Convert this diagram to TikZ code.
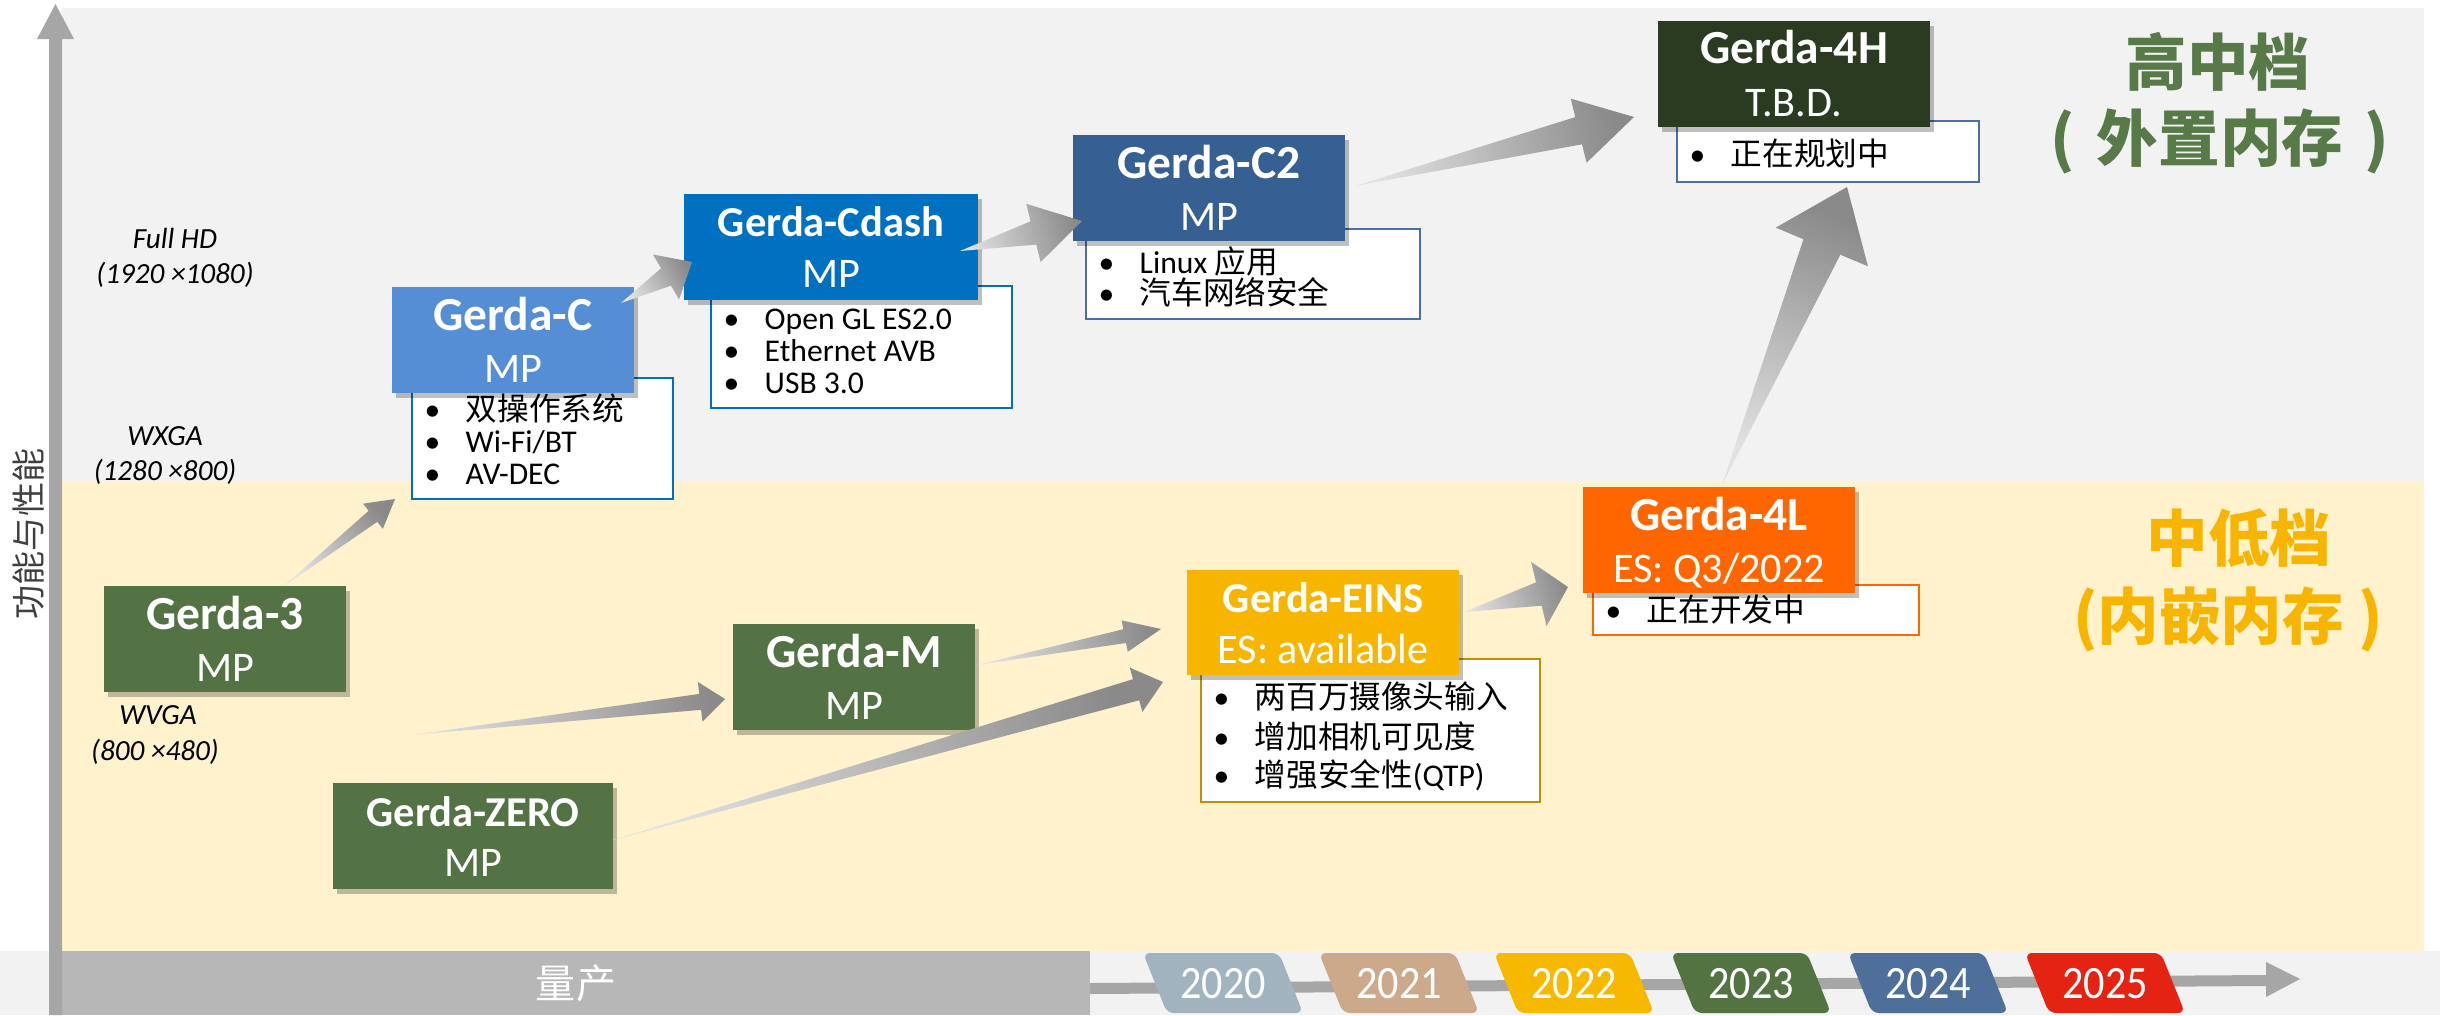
\documentclass[tikz,border=0pt]{standalone}
\usepackage{fontspec}
\setmainfont{Carlito}
\newfontfamily\cjk{Noto Sans CJK SC}
\usetikzlibrary{calc,fit,shadows}

\definecolor{bggray}{HTML}{F2F2F2}
\definecolor{bgyel}{HTML}{FFF2CC}
\definecolor{axisgray}{HTML}{A6A6A6}
\definecolor{barg}{HTML}{B7B7B7}
\definecolor{cgreen}{HTML}{537344}
\definecolor{cltblue}{HTML}{558ED5}
\definecolor{cblue}{HTML}{0070C0}
\definecolor{csteel}{HTML}{376092}
\definecolor{cdkgreen}{HTML}{2A3B22}
\definecolor{corange}{HTML}{FF6600}
\definecolor{camber}{HTML}{F7B500}
\definecolor{bdsteel}{HTML}{4A6FA5}
\definecolor{bdgold}{HTML}{BF9000}
\definecolor{hgreen}{HTML}{587A48}
\definecolor{ylabc}{HTML}{404040}
\definecolor{yra}{HTML}{A0B3BE}
\definecolor{yrb}{HTML}{CDA98C}
\definecolor{yrc}{HTML}{F7B800}
\definecolor{yrd}{HTML}{537343}
\definecolor{yre}{HTML}{4D6F99}
\definecolor{yrf}{HTML}{E42313}
\definecolor{arrlight}{HTML}{E2E2E2}
\definecolor{arrdark}{HTML}{8A8A8A}

\newcommand\bl[1]{\makebox[0.41cm][l]{•}#1}

\newcommand\garrow[5]{%
  \pgfmathanglebetweenpoints{\pgfpointanchor{#1}{center}}{\pgfpointanchor{#2}{center}}%
  \pgfmathsetmacro\gaang{\pgfmathresult-90}%
  \coordinate (gahb) at ($(#2)!#3!(#1)$);
  \shade[bottom color=arrlight, top color=arrdark, shading angle=\gaang]
    (#1) -- ($(gahb)!#5!90:(#2)$) -- ($(gahb)!#4!90:(#2)$) -- (#2)
    -- ($(gahb)!#4!-90:(#2)$) -- ($(gahb)!#5!-90:(#2)$) -- cycle;
}

\tikzset{
  tbox/.style={inner sep=0, outer sep=0, draw=none,
    drop shadow={shadow xshift=1.2pt, shadow yshift=-1.5pt, opacity=0.25, fill=black}},
  bbox/.style={inner sep=0, outer sep=0, fill=white, line width=0.7pt},
  ttl/.style={anchor=base, inner sep=0, text=white, font=\fontsize{13.5}{14}\selectfont\bfseries},
  ttls/.style={anchor=base, inner sep=0, text=white, font=\fontsize{12.1}{13}\selectfont\bfseries},
  sub/.style={anchor=base, inner sep=0, text=white, font=\fontsize{12}{13}\selectfont},
  item/.style={anchor=base west, inner sep=0, font=\fontsize{9}{10}\selectfont},
  res/.style={anchor=base, inner sep=0, font=\fontsize{8.3}{9}\selectfont\itshape},
  yrtxt/.style={anchor=base, inner sep=0, text=white, font=\fontsize{12}{13}\selectfont},
  big/.style={inner sep=0, font={\cjk\bfseries\fontsize{17.5}{18}\selectfont}},
}

\begin{document}
\begin{tikzpicture}[x=0.01cm, y=-0.01cm]
\useasboundingbox (0,0) rectangle (2440,1015);
\fill[white] (0,0) rectangle (2440,1015);

% backgrounds
\fill[bggray] (62,8) rectangle (2424,482);
\fill[bgyel] (62,482) rectangle (2424,951);
\fill[bggray] (0,951) rectangle (2440,1015);
\fill[barg] (62,951) rectangle (1090,1015);
\node[font={\cjk\fontsize{11.4}{12}\selectfont}, text=white, inner sep=0] (lc) at (576,983) {量产};

% y axis
\fill[axisgray] (49,1015) -- (49,39) -- (37,39) -- (55.5,4) -- (74,39) -- (62,39) -- (62,1015) -- cycle;
\node[rotate=90, inner sep=0, text=ylabc, font={\cjk\fontsize{9.7}{10}\selectfont}] (ylab) at (29,534) {功能与性能};

% time axis
\fill[axisgray] (1090,983) -- (2266,975) -- (2266,962) -- (2300,979) -- (2266,997) -- (2266,986) -- (1090,994) -- cycle;
\foreach \x/\c/\yr [count=\i] in {1143/yra/2020, 1319/yrb/2021, 1494/yrc/2022, 1671/yrd/2023, 1848/yre/2024, 2025/yrf/2025} {
  \fill[\c, rounded corners=2pt] (\x,953) -- (\x+136,953) -- (\x+160,1013) -- (\x+24,1013) -- cycle;
  \node[yrtxt] (yr\i) at (\x+80,998) {\scalebox{1}[1.1]{\yr}};
}

% resolution labels
\node[res] (r1a) at (175,248) {Full HD};
\node[res] (r1b) at (175,283) {(1920 ×1080)};
\node[res] (r2a) at (165,445) {WXGA};
\node[res] (r2b) at (165,480) {(1280 ×800)};
\node[res] (r3a) at (158,724) {WVGA};
\node[res] (r3b) at (155,760) {(800 ×480)};

% tier labels
\node[big, text=hgreen] (hi1) at (2218,62) {高中档};
\node[big, text=hgreen] (hi2) at (2220,141) {(\hspace{0.35em}外置内存\hspace{0.35em})};
\node[big, text=camber] (lo1) at (2239,538) {中低档};
\node[big, text=camber] (lo2) at (2228,619) {(内嵌内存 )};

% bullet boxes
\node[bbox, draw=cblue, fit={(412,378) (673,499)}] (bC) {};
\node[item] (bC1) at (424,420) {\bl{\cjk 双操作系统}};
\node[item] (bC2) at (424,452) {\bl{Wi-Fi/BT}};
\node[item] (bC3) at (424,484) {\bl{AV-DEC}};

\node[bbox, draw=cblue, fit={(711,286) (1012,408)}] (bCd) {};
\node[item] (bCd1) at (723,329) {\bl{Open GL ES2.0}};
\node[item] (bCd2) at (723,361) {\bl{Ethernet AVB}};
\node[item] (bCd3) at (723,393) {\bl{USB 3.0}};

\node[bbox, draw=bdsteel, fit={(1086,229) (1420,319)}] (bC2) {};
\node[item] (bC21) at (1098,273) {\bl{Linux {\cjk 应用}}};
\node[item] (bC22) at (1098,304) {\bl{\cjk 汽车网络安全}};

\node[bbox, draw=bdsteel, fit={(1677,121) (1979,182)}] (b4H) {};
\node[item] (b4H1) at (1689,165) {\bl{\cjk 正在规划中}};

\node[bbox, draw=corange, fit={(1593,585) (1919,635)}] (b4L) {};
\node[item] (b4L1) at (1605,621) {\bl{\cjk 正在开发中}};

\node[bbox, draw=bdgold, fit={(1201,659) (1540,802)}] (bE) {};
\node[item] (bE1) at (1213,708) {\bl{\cjk 两百万摄像头输入}};
\node[item] (bE2) at (1213,748) {\bl{\cjk 增加相机可见度}};
\node[item] (bE3) at (1213,786) {\bl{{\cjk 增强安全性}(QTP)}};

% title boxes
\node[tbox, fill=cgreen, fit={(104,586) (346,692)}] (g3) {};
\node[ttl] (g3t) at ($(g3.north)+(0,43)$) {Gerda-3};
\node[sub] (g3s) at ($(g3.north)+(0,95)$) {MP};

\node[tbox, fill=cltblue, fit={(392,287) (634,393)}] (gC) {};
\node[ttl] (gCt) at ($(gC.north)+(0,43)$) {Gerda-C};
\node[sub] (gCs) at ($(gC.north)+(0,95)$) {MP};

\node[tbox, fill=cblue, fit={(684,194) (978,300)}] (gCd) {};
\node[ttls] (gCdt) at ($(gCd.north)+(0,42)$) {Gerda-Cdash};
\node[sub] (gCds) at ($(gCd.north)+(0,93)$) {MP};

\node[tbox, fill=csteel, fit={(1073,135) (1345,241)}] (gC2) {};
\node[ttl] (gC2t) at ($(gC2.north)+(0,43)$) {Gerda-C2};
\node[sub] (gC2s) at ($(gC2.north)+(0,95)$) {MP};

\node[tbox, fill=cdkgreen, fit={(1658,21) (1930,127)}] (g4H) {};
\node[ttl] (g4Ht) at ($(g4H.north)+(0,43)$) {Gerda-4H};
\node[sub] (g4Hs) at ($(g4H.north)+(0,95)$) {T.B.D.};

\node[tbox, fill=corange, fit={(1583,487) (1855,593)}] (g4L) {};
\node[ttl] (g4Lt) at ($(g4L.north)+(0,43)$) {Gerda-4L};
\node[sub] (g4Ls) at ($(g4L.north)+(0,95)$) {ES: Q3/2022};

\node[tbox, fill=camber, fit={(1187,570) (1459,675)}] (gE) {};
\node[ttls] (gEt) at ($(gE.north)+(0,42)$) {Gerda-EINS};
\node[sub] (gEs) at ($(gE.north)+(0,93)$) {ES: available};

\node[tbox, fill=cgreen, fit={(733,624) (975,730)}] (gM) {};
\node[ttl] (gMt) at ($(gM.north)+(0,43)$) {Gerda-M};
\node[sub] (gMs) at ($(gM.north)+(0,95)$) {MP};

\node[tbox, fill=cgreen, fit={(333,783) (613,889)}] (gZ) {};
\node[ttls] (gZt) at ($(gZ.north)+(0,43)$) {Gerda-ZERO};
\node[sub] (gZs) at ($(gZ.north)+(0,93)$) {MP};

% arrows
\coordinate (a1t) at (284,586);  \coordinate (a1h) at (395,499);
\coordinate (a2t) at (621,303);  \coordinate (a2h) at (692,262);
\coordinate (a3t) at (960,251);  \coordinate (a3h) at (1082,221);
\coordinate (a4t) at (1355,186); \coordinate (a4h) at (1634,117);
\coordinate (a5t) at (1722,485); \coordinate (a5h) at (1847,187);
\coordinate (a6t) at (1464,612); \coordinate (a6h) at (1568,587);
\coordinate (a7t) at (977,665);  \coordinate (a7h) at (1161,629);
\coordinate (a8t) at (613,840);  \coordinate (a8h) at (1163,682);
\coordinate (a9t) at (412,735);  \coordinate (a9h) at (725,699);

\garrow{a1t}{a1h}{0.28cm}{0.16cm}{0.07cm}
\garrow{a2t}{a2h}{0.30cm}{0.26cm}{0.10cm}
\garrow{a3t}{a3h}{0.50cm}{0.30cm}{0.12cm}
\garrow{a4t}{a4h}{0.57cm}{0.33cm}{0.14cm}
\garrow{a5t}{a5h}{0.65cm}{0.50cm}{0.20cm}
\garrow{a6t}{a6h}{0.30cm}{0.33cm}{0.12cm}
\garrow{a7t}{a7h}{0.37cm}{0.16cm}{0.07cm}
\garrow{a8t}{a8h}{0.28cm}{0.23cm}{0.11cm}
\garrow{a9t}{a9h}{0.25cm}{0.20cm}{0.08cm}
\end{tikzpicture}
\end{document}
